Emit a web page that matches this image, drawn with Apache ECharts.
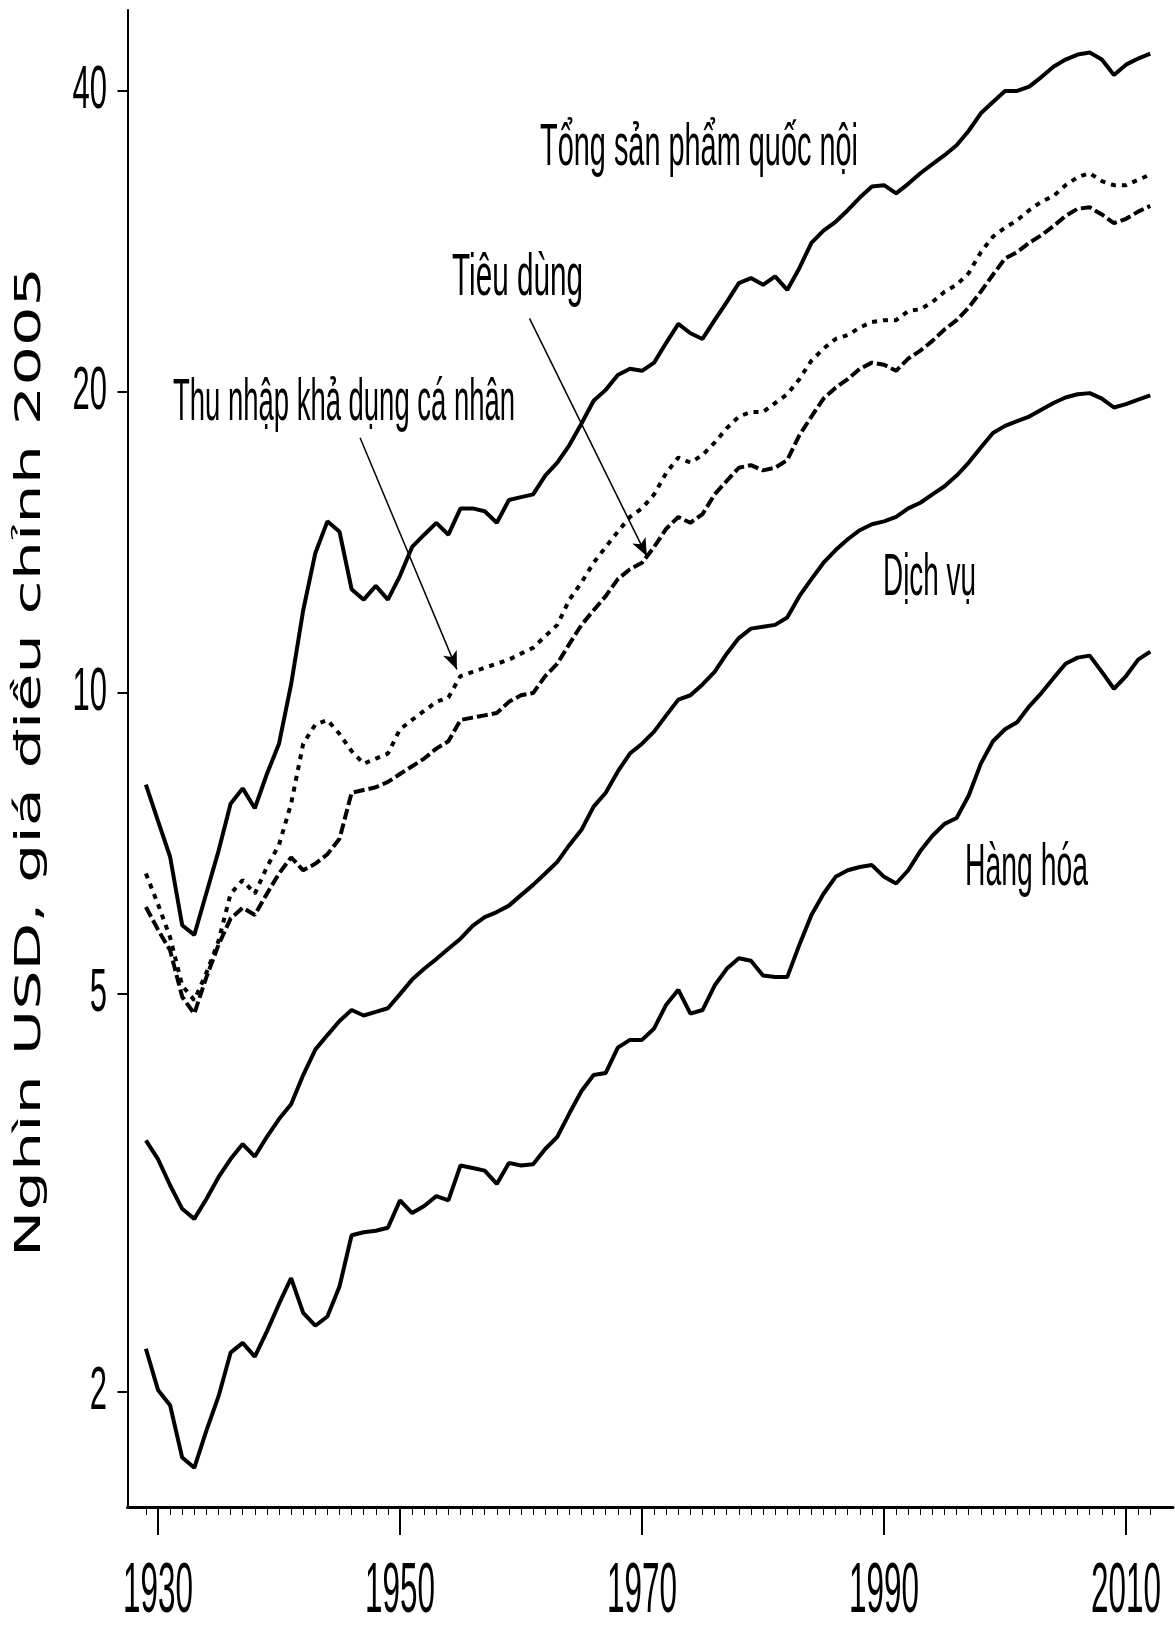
<!DOCTYPE html>
<html>
<head>
<meta charset="utf-8">
<title>GDP, thu nhập, tiêu dùng</title>
<script src="https://cdn.jsdelivr.net/npm/echarts@6/dist/echarts.min.js"></script>
<style>
html, body { margin: 0; padding: 0; background: #fff; }
#chart { width: 1175px; height: 1627px; }
</style>
</head>
<body>
<div id="chart"></div>
<script>
// số liệu theo năm, 1929 - 2012 (nghìn USD, giá 2005)
const firstYear = 1929;
const lastYear = 2012;

const gdp = [
  8.1, 7.45, 6.86, 5.86, 5.73, 6.31, 6.95, 7.75, 8.03, 7.67,
  8.3, 8.9, 10.2, 12.1, 13.8, 14.85, 14.5, 12.7, 12.4, 12.8,
  12.4, 13.1, 14.0, 14.4, 14.8, 14.4, 15.3, 15.3, 15.2, 14.8,
  15.6, 15.7, 15.8, 16.5, 17.0, 17.7, 18.6, 19.6, 20.1, 20.8,
  21.1, 21.0, 21.4, 22.4, 23.4, 22.9, 22.6, 23.6, 24.6, 25.7,
  26.0, 25.6, 26.1, 25.3, 26.6, 28.2, 29.0, 29.6, 30.4, 31.3,
  32.1, 32.2, 31.6, 32.3, 33.1, 33.8, 34.5, 35.3, 36.5, 38.0,
  39.0, 40.0, 40.0, 40.4, 41.3, 42.3, 43.0, 43.5, 43.7, 43.0,
  41.5, 42.5, 43.1, 43.6
];

const income = [
  6.6, 6.15, 5.7, 5.1, 4.93, 5.25, 5.65, 6.3, 6.5, 6.3,
  6.7, 7.05, 7.75, 8.9, 9.3, 9.4, 9.1, 8.75, 8.5, 8.6,
  8.7, 9.2, 9.4, 9.6, 9.8, 9.9, 10.4, 10.5, 10.6, 10.7,
  10.8, 10.95, 11.1, 11.4, 11.7, 12.4, 12.9, 13.5, 14.0, 14.5,
  15.0, 15.3, 15.8, 16.6, 17.2, 17.0, 17.3, 17.8, 18.4, 18.9,
  19.1, 19.1, 19.5, 19.9, 20.6, 21.5, 22.1, 22.6, 22.8, 23.2,
  23.5, 23.6, 23.6, 24.1, 24.2, 24.6, 25.2, 25.6, 26.3, 27.6,
  28.6, 29.2, 29.7, 30.4, 31.0, 31.4, 32.2, 32.8, 33.1, 32.5,
  32.2, 32.2, 32.6, 33.0
];

const consumption = [
  6.11, 5.8, 5.53, 4.97, 4.78, 5.2, 5.6, 5.95, 6.1, 6.0,
  6.3, 6.6, 6.85, 6.65, 6.75, 6.9, 7.15, 7.95, 8.0, 8.05,
  8.15, 8.3, 8.45, 8.6, 8.8, 8.95, 9.4, 9.45, 9.5, 9.55,
  9.8, 9.95, 10.0, 10.4, 10.7, 11.2, 11.7, 12.1, 12.5, 13.0,
  13.3, 13.5, 14.0, 14.6, 15.0, 14.8, 15.1, 15.8, 16.3, 16.8,
  16.9, 16.7, 16.8, 17.1, 18.1, 18.9, 19.7, 20.2, 20.6, 21.1,
  21.4, 21.3, 21.0, 21.6, 22.0, 22.5, 23.1, 23.6, 24.3, 25.2,
  26.2, 27.2, 27.6, 28.2, 28.7, 29.3, 30.0, 30.5, 30.6, 30.1,
  29.5, 29.8, 30.3, 30.7
];

const services = [
  3.57, 3.42, 3.22, 3.05, 2.98, 3.12, 3.28, 3.42, 3.54, 3.44,
  3.6, 3.75, 3.88, 4.15, 4.4, 4.55, 4.7, 4.82, 4.76, 4.8,
  4.84, 5.0, 5.17, 5.3, 5.42, 5.55, 5.68, 5.85, 5.97, 6.04,
  6.13, 6.28, 6.43, 6.6, 6.78, 7.05, 7.3, 7.7, 7.95, 8.35,
  8.7, 8.9, 9.15, 9.5, 9.85, 9.95, 10.2, 10.5, 10.95, 11.35,
  11.6, 11.65, 11.7, 11.9, 12.5, 13.0, 13.5, 13.9, 14.25, 14.55,
  14.75, 14.85, 15.0, 15.3, 15.5, 15.8, 16.1, 16.5, 17.0, 17.6,
  18.2, 18.5, 18.7, 18.9, 19.2, 19.5, 19.75, 19.9, 19.95, 19.7,
  19.3, 19.45, 19.65, 19.85
];

const goods = [
  2.21, 2.01, 1.94, 1.72, 1.68, 1.83, 1.98, 2.19, 2.24, 2.17,
  2.3, 2.45, 2.6, 2.4, 2.33, 2.38, 2.55, 2.87, 2.89, 2.9,
  2.92, 3.11, 3.02, 3.07, 3.14, 3.11, 3.37, 3.35, 3.33, 3.23,
  3.39, 3.37, 3.38, 3.5, 3.6, 3.8, 4.0, 4.15, 4.17, 4.42,
  4.5, 4.5, 4.62, 4.88, 5.05, 4.78, 4.82, 5.1, 5.3, 5.43,
  5.4, 5.22, 5.2, 5.2, 5.6, 6.0, 6.3, 6.55, 6.65, 6.7,
  6.73, 6.55, 6.45, 6.65, 6.95, 7.2, 7.4, 7.5, 7.9, 8.5,
  8.95, 9.2, 9.35, 9.7, 10.0, 10.35, 10.7, 10.85, 10.9, 10.5,
  10.1, 10.4, 10.8, 11.0
];

const xTicks = [1930, 1950, 1970, 1990, 2010];
const yTicks = [2, 5, 10, 20, 40];

// mũi tên chú thích: [năm, giá trị] -> [năm, giá trị]
const arrowConsumption = [[1960.7, 23.7], [1970.4, 13.7]];
const arrowIncome = [[1946.7, 18.0], [1954.7, 10.56]];

const years = [];
for (let y = firstYear; y <= lastYear; y++) years.push(y);
const pairs = vals => years.map((y, i) => [y, vals[i]]);

// chữ trong hình gốc bị ép hẹp theo chiều ngang -> đo rồi co lại
const measureCtx = document.createElement('canvas').getContext('2d');
function textWidth(text, size, family) {
  measureCtx.font = size + 'px "' + family + '"';
  return measureCtx.measureText(text).width;
}
function squeezedText(text, x, y, size, sx, align, family) {
  return {
    type: 'text',
    x: x,
    y: y,
    scaleX: sx,
    style: {
      text: text,
      fontSize: size,
      fontFamily: family || 'Liberation Sans',
      fill: '#000',
      textAlign: align,
      textVerticalAlign: 'middle'
    }
  };
}
function note(text, left, baseline, width) {
  const size = 60;
  return squeezedText(text, left, baseline - size * 0.36, size,
    width / textWidth(text, size, 'Liberation Sans'), 'left');
}

const titleText = 'Nghìn USD, giá điều chỉnh 2005';
const titleSize = 36;

const chart = echarts.init(document.getElementById('chart'));

const solid = { color: '#000', width: 4, type: 'solid' };

const option = {
  animation: false,
  backgroundColor: '#fff',
  grid: { left: 127.5, right: 2, top: 10, bottom: 120, containLabel: false },
  xAxis: [{
    type: 'value',
    min: 1927.48,
    max: 2013.88,
    axisLine: { show: true, lineStyle: { color: '#000', width: 3 } },
    axisTick: { show: true, customValues: xTicks, length: 28, lineStyle: { color: '#000', width: 2 } },
    axisLabel: { show: false },
    splitLine: { show: false }
  }, {
    type: 'value',
    position: 'bottom',
    min: 1927.48,
    max: 2013.88,
    axisLine: { show: false },
    axisTick: { show: true, customValues: years, length: 8, lineStyle: { color: '#000', width: 1 } },
    axisLabel: { show: false },
    splitLine: { show: false }
  }],
  yAxis: {
    type: 'log',
    logBase: 10,
    min: 1.535,
    max: 48.2,
    axisLine: { show: true, lineStyle: { color: '#000', width: 2 } },
    axisTick: { show: true, customValues: yTicks, length: 10, lineStyle: { color: '#000', width: 2 } },
    axisLabel: { show: false },
    minorTick: { show: false },
    splitLine: { show: false }
  },
  series: [
    {
      name: 'Tổng sản phẩm quốc nội',
      type: 'line',
      data: pairs(gdp),
      showSymbol: false,
      lineStyle: solid
    },
    {
      name: 'Thu nhập khả dụng cá nhân',
      type: 'line',
      data: pairs(income),
      showSymbol: false,
      lineStyle: { color: '#000', width: 4, type: [5, 6] },
      markLine: {
        silent: true,
        symbol: ['none', 'arrow'],
        symbolSize: [11, 18],
        label: { show: false },
        lineStyle: { color: '#000', width: 1.5, type: 'solid' },
        data: [[{ coord: arrowIncome[0] }, { coord: arrowIncome[1] }]]
      }
    },
    {
      name: 'Tiêu dùng',
      type: 'line',
      data: pairs(consumption),
      showSymbol: false,
      lineStyle: { color: '#000', width: 4, type: [11, 4] },
      markLine: {
        silent: true,
        symbol: ['none', 'arrow'],
        symbolSize: [11, 18],
        label: { show: false },
        lineStyle: { color: '#000', width: 1.5, type: 'solid' },
        data: [[{ coord: arrowConsumption[0] }, { coord: arrowConsumption[1] }]]
      }
    },
    {
      name: 'Dịch vụ',
      type: 'line',
      data: pairs(services),
      showSymbol: false,
      lineStyle: solid
    },
    {
      name: 'Hàng hóa',
      type: 'line',
      data: pairs(goods),
      showSymbol: false,
      lineStyle: solid
    }
  ]
};

chart.setOption(option);

// nhãn trục đặt theo thang đo của chính trục (convertToPixel), chữ hẹp như bản gốc
const xLabelSize = 70;
const xLabelScale = 70 / textWidth('1930', xLabelSize, 'Liberation Sans');
const yLabelSize = 62;
const yLabelScale = 0.5;
const axisY = chart.convertToPixel({ yAxisIndex: 0 }, 1.535);

const tickLabels = [];
xTicks.forEach(v => {
  const px = chart.convertToPixel({ xAxisIndex: 0 }, v);
  tickLabels.push(squeezedText(String(v), px, axisY + 86, xLabelSize, xLabelScale, 'center'));
});
yTicks.forEach(v => {
  const py = chart.convertToPixel({ yAxisIndex: 0 }, v);
  tickLabels.push(squeezedText(String(v), 107, py, yLabelSize, yLabelScale, 'right'));
});

chart.setOption({
  graphic: [
    note('Tổng sản phẩm quốc nội', 540, 170, 318),
    note('Tiêu dùng', 452, 300, 131),
    note('Thu nhập khả dụng cá nhân', 173, 425, 342),
    note('Dịch vụ', 883, 600, 93),
    note('Hàng hóa', 965, 890, 123),
    {
      type: 'text',
      x: 31,
      y: 762,
      rotation: Math.PI / 2,
      scaleX: 990 / textWidth(titleText, titleSize, 'DejaVu Sans'),
      style: {
        text: titleText,
        fontSize: titleSize,
        fontFamily: 'DejaVu Sans',
        fill: '#000',
        textAlign: 'center',
        textVerticalAlign: 'middle'
      }
    }
  ].concat(tickLabels)
});
</script>
</body>
</html>
